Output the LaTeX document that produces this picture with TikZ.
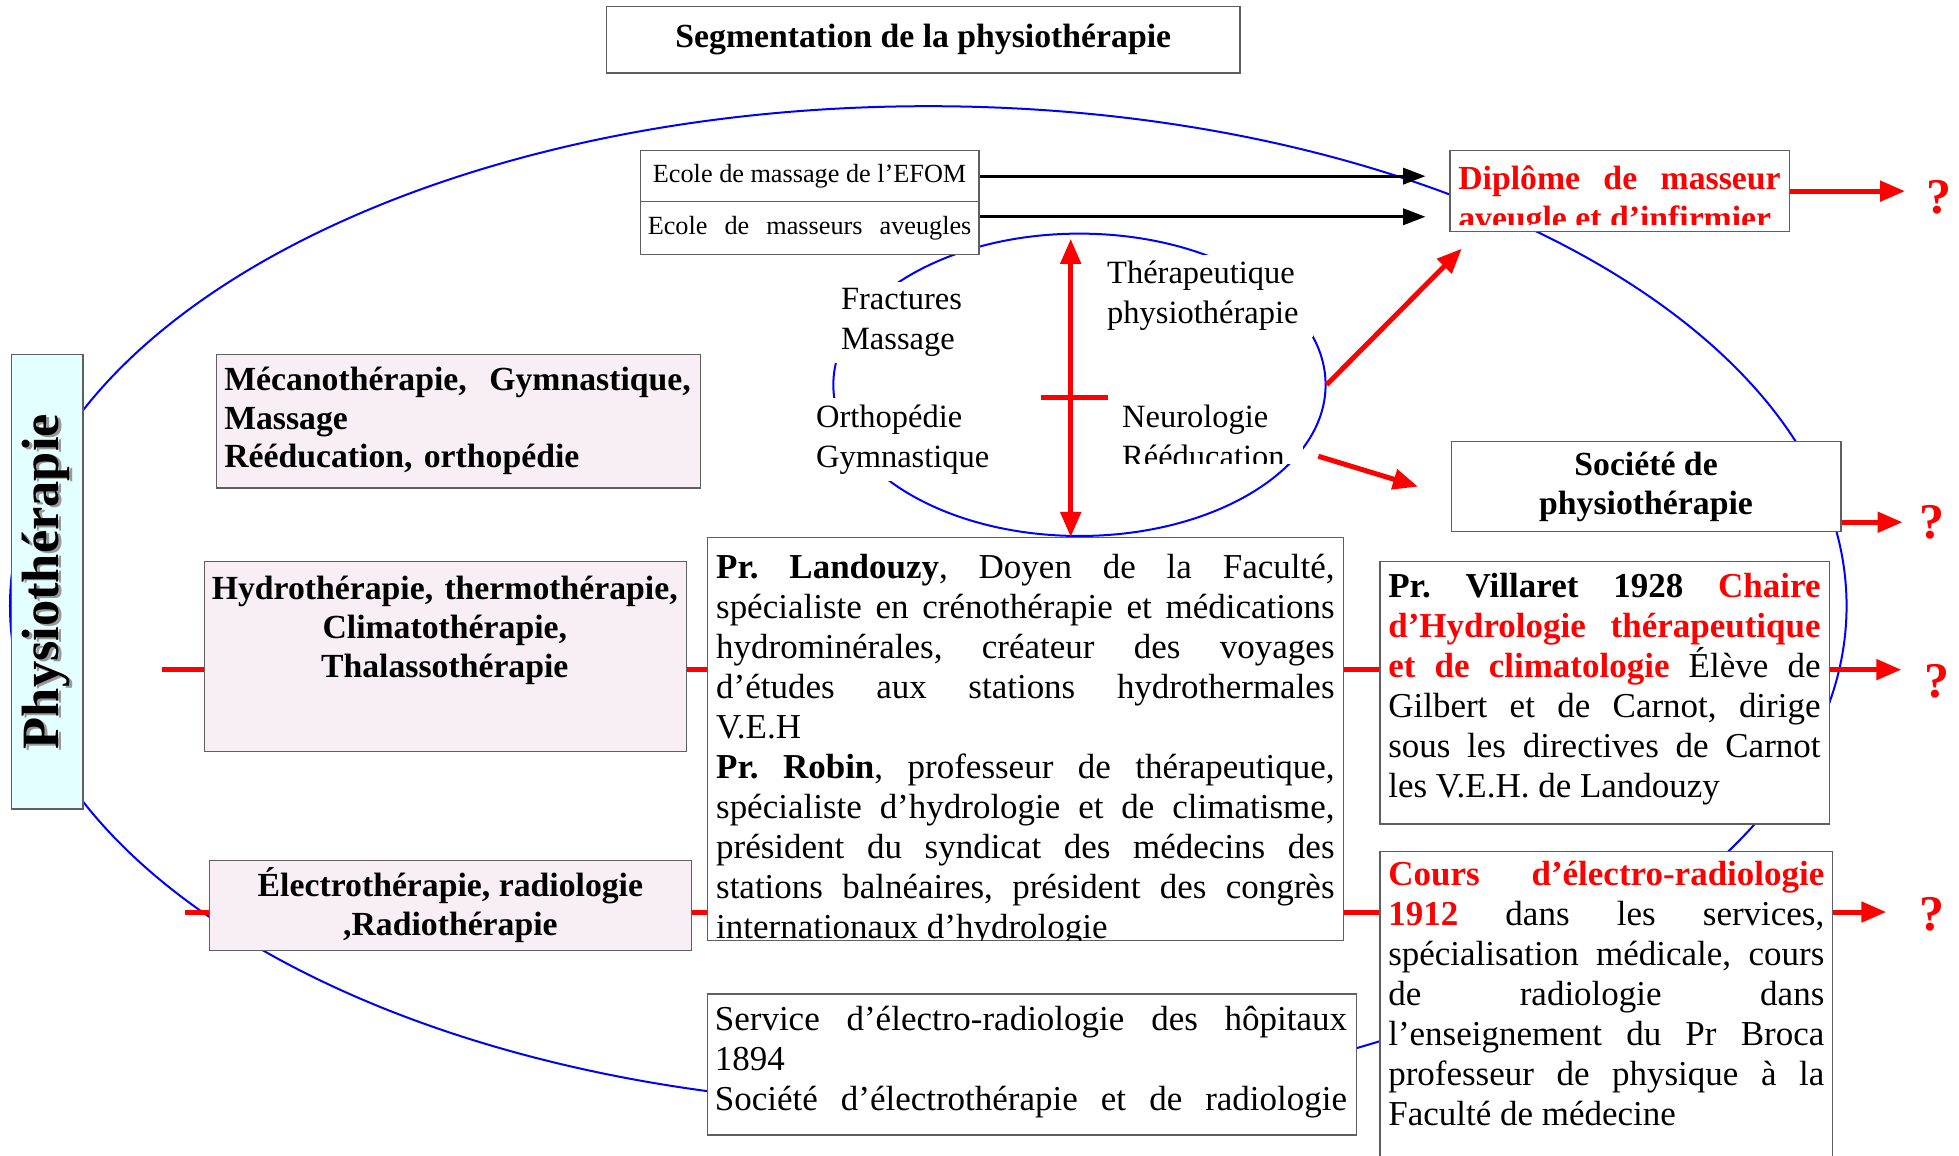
\documentclass[tikz,border=0pt]{standalone}
\usepackage{fontspec}
\setmainfont{Liberation Serif}
\usetikzlibrary{arrows.meta,shapes.geometric}
\definecolor{boxgray}{RGB}{95,95,95}
\definecolor{pinkfill}{RGB}{248,238,245}
\definecolor{cyanfill}{RGB}{228,255,255}
\tolerance=10000
\hyphenpenalty=10000
\frenchspacing
\newcommand{\shadowtxt}[1]{\makebox[0pt][l]{\hspace{-1.5pt}\raisebox{-3pt}{\color{black!40}#1}}#1}
\tikzset{
  plainbox/.style={draw=boxgray, line width=1pt, fill=white, inner sep=0pt, anchor=north west},
  pinkbox/.style={plainbox, fill=pinkfill},
  bodytext/.style={font=\fontsize{28}{32}\selectfont, inner sep=0pt, align=justify},
  boldtext/.style={font=\fontsize{27}{31}\selectfont\bfseries},
  ringtext/.style={font=\fontsize{26}{32}\selectfont, fill=white, inner sep=5pt, align=left},
  blueline/.style={draw=blue, line width=1.6pt},
  redline/.style={red, line width=4pt},
  redarrow/.style={redline, -{Triangle[length=20pt,width=16pt]}},
  blackarrow/.style={black, line width=2.4pt, -{Triangle[length=18pt,width=13pt]}},
  query/.style={text=red, font=\fontsize{40}{40}\selectfont\bfseries, inner sep=0pt}
}
\begin{document}
\begin{tikzpicture}[x=1pt, y=-1pt]
  \clip (0,0) rectangle (1568,925);

  \node[ellipse, blueline, inner sep=0pt, minimum width=1470pt, minimum height=800pt] (ring) at (743,485) {};
  \node[ellipse, blueline, inner sep=0pt, minimum width=394pt, minimum height=242pt] (circ) at (864,308) {};

  \node[plainbox, minimum width=507pt, minimum height=53pt, boldtext] (title) at (485,5) {Segmentation de la physiothérapie};

  \node[plainbox, minimum width=271pt, minimum height=41pt, font=\fontsize{21}{24}\selectfont] (efom) at (512,120) {Ecole de massage de l’EFOM};
  \node[plainbox, minimum width=271pt, minimum height=42pt, font=\fontsize{21}{24}\selectfont] (aveug) at (512,161) {\makebox[259pt][s]{Ecole de masseurs aveugles}};

  \node[plainbox, minimum width=272pt, minimum height=65pt] (dipl) at (1160,120) {};
  \begin{scope}
    \clip (dipl.north west) rectangle ([yshift=6pt]dipl.south east);
    \node[boldtext, font=\fontsize{27}{32}\selectfont\bfseries, text=red, text width=258pt, align=justify, inner sep=0pt, anchor=base west] (dipltxt) at (1167,152) {Diplôme de masseur\linebreak aveugle et d’infirmier};
  \end{scope}

  \node[plainbox, minimum width=312pt, minimum height=72pt, boldtext, align=center] (soc) at (1161,353) {Société de\\physiothérapie};

  \node[plainbox, fill=cyanfill, minimum width=57pt, minimum height=364pt] (phys) at (9,283) {};
  \node[rotate=90, font=\fontsize{42}{42}\selectfont\bfseries] (physt) at (phys.center) {\shadowtxt{Physiothérapie}};

  \node[pinkbox, minimum width=387pt, minimum height=107pt, inner xsep=6pt, text width=375pt, align=left, boldtext] (meca) at (173,283) {\mbox{Mécanothérapie,\ \ Gymnastique,}\\Massage\\Rééducation, orthopédie};

  \node[pinkbox, minimum width=386pt, minimum height=152pt] (hydro) at (163,449) {};
  \node[boldtext, text width=380pt, align=center, inner sep=0pt, anchor=base] (hydrotxt) at (356,480) {Hydrothérapie, thermothérapie,\\Climatothérapie,\\Thalassothérapie};

  \node[pinkbox, minimum width=386pt, minimum height=72pt, boldtext, align=center] (electro) at (167,688) {Électrothérapie, radiologie\\,Radiothérapie};

  \node[plainbox, minimum width=509pt, minimum height=322pt] (lan) at (566,430) {};
  \begin{scope}
    \clip (lan.south west) rectangle (lan.north east);
    \node[bodytext, text width=495pt, anchor=base west] (lantxt) at (573,463) {\textbf{Pr. Landouzy}, Doyen de la Faculté,\linebreak
      spécialiste en crénothérapie et médications\linebreak
      hydrominérales, créateur des voyages\linebreak
      d’études aux stations hydrothermales\linebreak
      V.E.H\\
      \textbf{Pr. Robin}, professeur de thérapeutique,\linebreak
      spécialiste d’hydrologie et de climatisme,\linebreak
      président du syndicat des médecins des\linebreak
      stations balnéaires, président des congrès\linebreak
      internationaux d’hydrologie};
  \end{scope}

  \node[plainbox, minimum width=360pt, minimum height=210pt] (vill) at (1104,449) {};
  \node[bodytext, text width=346pt, anchor=base west] (villtxt) at (1111,478) {\textbf{Pr. Villaret 1928} \textcolor{red}{\textbf{Chaire}}\linebreak
    \textcolor{red}{\textbf{d’Hydrologie thérapeutique}}\linebreak
    \textcolor{red}{\textbf{et de climatologie}} Élève de\linebreak
    Gilbert et de Carnot, dirige\linebreak
    sous les directives de Carnot\linebreak
    les V.E.H. de Landouzy};

  \node[plainbox, minimum width=362pt, minimum height=300pt] (cours) at (1104,681) {};
  \node[bodytext, text width=349pt, anchor=base west] (courstxt) at (1111,709) {\textcolor{red}{\textbf{Cours d’électro-radiologie}}\linebreak
    \textcolor{red}{\textbf{1912}} dans les services,\linebreak
    spécialisation médicale, cours\linebreak
    de radiologie dans\linebreak
    l’enseignement du Pr Broca\linebreak
    professeur de physique à la\linebreak
    Faculté de médecine};

  \node[plainbox, minimum width=519pt, minimum height=113pt] (serv) at (566,795) {};
  \node[bodytext, text width=506pt, anchor=base west] (servtxt) at (572,825) {Service d’électro-radiologie des hôpitaux\linebreak
    1894\\
    \makebox[\linewidth][s]{Société d’électrothérapie et de radiologie}};

  \node[ringtext, text width=112pt, anchor=base west] (frac) at (668,248) {Fractures\\Massage};
  \node[ringtext, text width=145pt, anchor=base west] (ortho) at (648,342) {Orthopédie\\Gymnastique};
  \node[ringtext, text width=160pt, anchor=base west] (thera) at (881,227) {Thérapeutique\\physiothérapie};
  \begin{scope}
    \clip (880,300) rectangle (1050,371);
    \node[ringtext, text width=140pt, anchor=base west] (neuro) at (893,342) {Neurologie\\Rééducation};
  \end{scope}

  \foreach \qname/\qx/\qy in {q1/1552/158, q2/1546/418, q3/1550/545, q4/1546/732}
    \node[query] (\qname) at (\qx,\qy) {?};

  \coordinate (hl) at (130,536);
  \coordinate (el) at (148,730);

  \draw[blackarrow, shorten >=20pt] (efom.east) -- ++(377,0);
  \draw[blackarrow, shorten >=20pt] ([yshift=9pt]aveug.east) -- ++(377,0);

  \draw[redline, {Triangle[length=20pt,width=16pt]}-{Triangle[length=20pt,width=16pt]}, shorten <=5pt] ([xshift=-7pt]circ.north) -- ([xshift=-7pt]circ.south);
  \draw[redline] ([xshift=-31pt,yshift=-10pt]circ.center) -- ([xshift=23pt,yshift=-10pt]circ.center);
  \draw[redarrow] (circ.east) -- ([shift={(10pt,-13pt)}]dipl.south west);
  \draw[redarrow] ([shift={(14pt,-3pt)}]circ.-17) -- ([xshift=-26pt]soc.west);

  \draw[redarrow, shorten >=17pt] (dipl.east) -- (dipl.east -| q1.west);
  \draw[redarrow, shorten >=13pt] (q2.west -| soc.east) -- (q2.west);

  \draw[redline] (hl) -- (hydro.west |- hl);
  \draw[redline] (hydro.east |- hl) -- (lan.west |- hl);
  \draw[redline] (lan.east |- hl) -- (vill.west |- hl);
  \draw[redarrow, shorten >=18pt] (vill.east |- hl) -- (q3.west |- hl);

  \draw[redline] (el) -- (electro.west |- el);
  \draw[redline] (electro.east |- el) -- (lan.west |- el);
  \draw[redline] (lan.east |- el) -- (cours.west |- el);
  \draw[redarrow, shorten >=26pt] (cours.east |- el) -- (q4.west |- el);
\end{tikzpicture}
\end{document}
